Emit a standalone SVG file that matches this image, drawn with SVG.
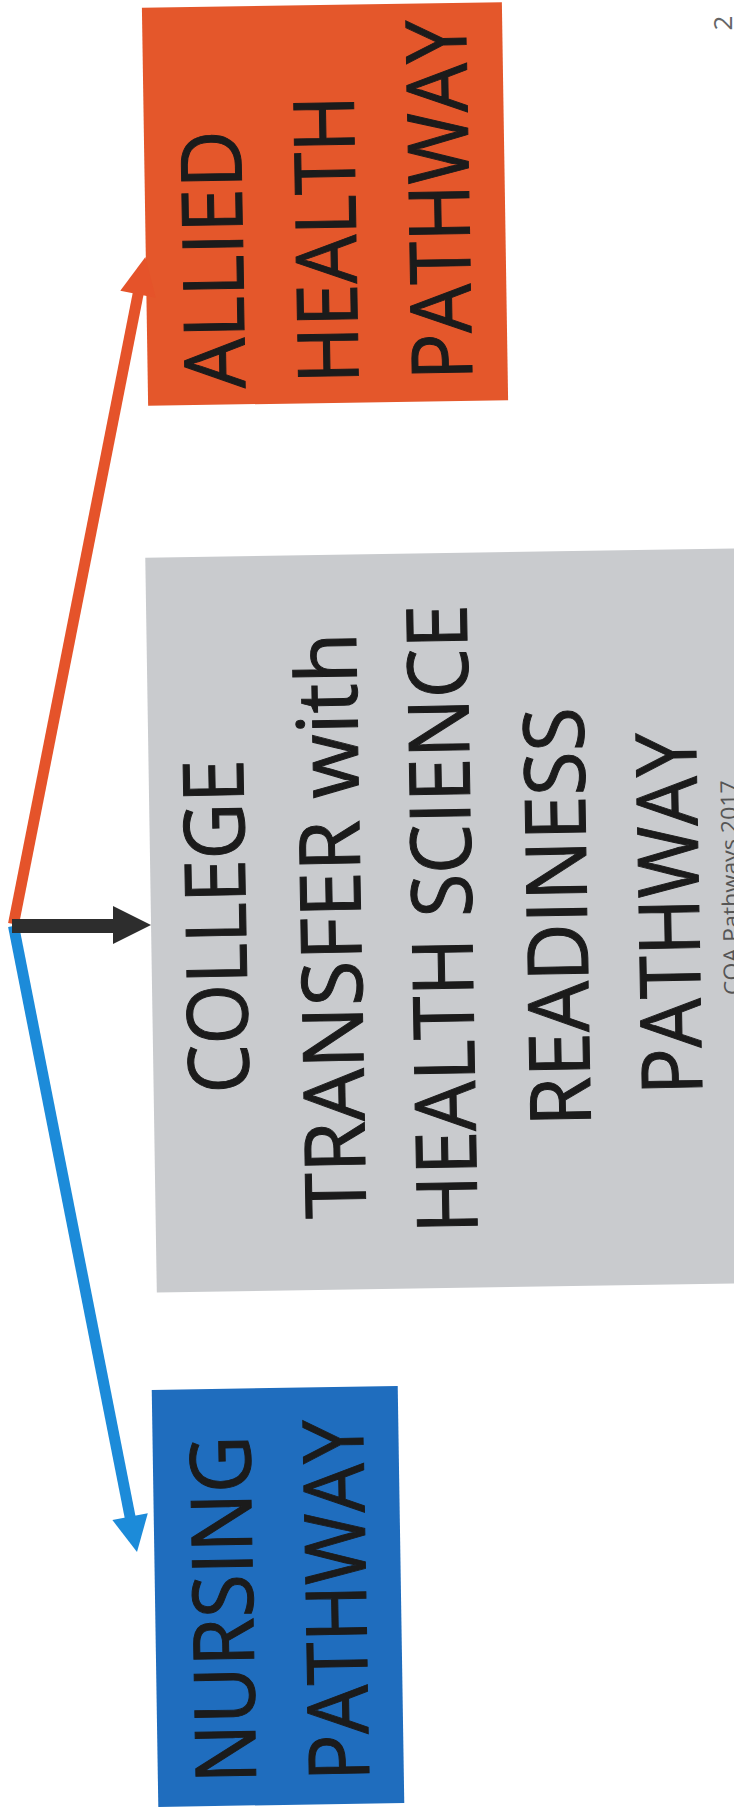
<svg xmlns="http://www.w3.org/2000/svg" width="734" height="1807" viewBox="0 0 734 1807">
<style>
.lbl{font-family:"Open Sans","Noto Sans","Liberation Sans",sans-serif;font-size:84px;fill:#1b1b1b;stroke:#1b1b1b;stroke-width:1px;text-anchor:middle}
.small{font-family:"Open Sans","Noto Sans","Liberation Sans",sans-serif;font-size:22px;fill:#555;text-anchor:middle}
.orange{fill:#E4572B}
.gray{fill:#C9CBCE}
.blue{fill:#1F6DBE}
</style>
<rect width="734" height="1807" fill="#ffffff"/>
<g id="node-allied-health">
<rect class="orange" x="145" y="5" width="360" height="398" transform="rotate(-0.9 325 204)"/>
<text class="lbl" transform="translate(243 259) rotate(-91)" textLength="258" lengthAdjust="spacingAndGlyphs">ALLIED</text>
<text class="lbl" transform="translate(356 239) rotate(-91)" textLength="288" lengthAdjust="spacingAndGlyphs">HEALTH</text>
<text class="lbl" transform="translate(469 199.5) rotate(-91)" textLength="360" lengthAdjust="spacingAndGlyphs">PATHWAY</text>
</g>
<g id="node-college-transfer">
<rect class="gray" x="151" y="553" width="600" height="735" transform="rotate(-0.9 443 920)"/>
<text class="lbl" transform="translate(246 926) rotate(-91)" textLength="334" lengthAdjust="spacingAndGlyphs">COLLEGE</text>
<text class="lbl" transform="translate(361 925) rotate(-91)" textLength="586" lengthAdjust="spacingAndGlyphs">TRANSFER with</text>
<text class="lbl" transform="translate(472 918.5) rotate(-91)" textLength="629" lengthAdjust="spacingAndGlyphs">HEALTH SCIENCE</text>
<text class="lbl" transform="translate(587 916.5) rotate(-91)" textLength="419" lengthAdjust="spacingAndGlyphs">READINESS</text>
<text class="lbl" transform="translate(699 913.5) rotate(-91)" textLength="362" lengthAdjust="spacingAndGlyphs">PATHWAY</text>
</g>
<g id="node-nursing">
<rect class="blue" x="155" y="1388" width="246" height="417" transform="rotate(-0.9 278 1596)"/>
<text class="lbl" transform="translate(253 1609) rotate(-91)" textLength="348" lengthAdjust="spacingAndGlyphs">NURSING</text>
<text class="lbl" transform="translate(366 1600) rotate(-91)" textLength="361" lengthAdjust="spacingAndGlyphs">PATHWAY</text>
</g>
<g id="connectors">
<g id="edge-allied">
<line x1="13.5" y1="924" x2="138.5" y2="292" stroke="#E5532A" stroke-width="11"/>
<polygon points="120.3,290.8 145.4,257 155.7,297.8" fill="#E5532A"/>
</g>
<g id="edge-nursing">
<line x1="13.5" y1="926" x2="130.5" y2="1519" stroke="#1C8BD9" stroke-width="11"/>
<polygon points="112.4,1520.1 137,1552 147.8,1513.3" fill="#1C8BD9"/>
</g>
<g id="edge-college">
<rect x="12" y="919" width="102" height="14" fill="#2D2D2D"/>
<polygon points="113,906 151,925 113,944" fill="#2D2D2D"/>
</g>
</g>
<text class="small" transform="translate(738 887.5) rotate(-91)" textLength="215" lengthAdjust="spacingAndGlyphs">COA Pathways 2017</text>
<text class="small" transform="translate(732 23) rotate(-90)" style="fill:#666;font-size:26px">2</text>
</svg>
